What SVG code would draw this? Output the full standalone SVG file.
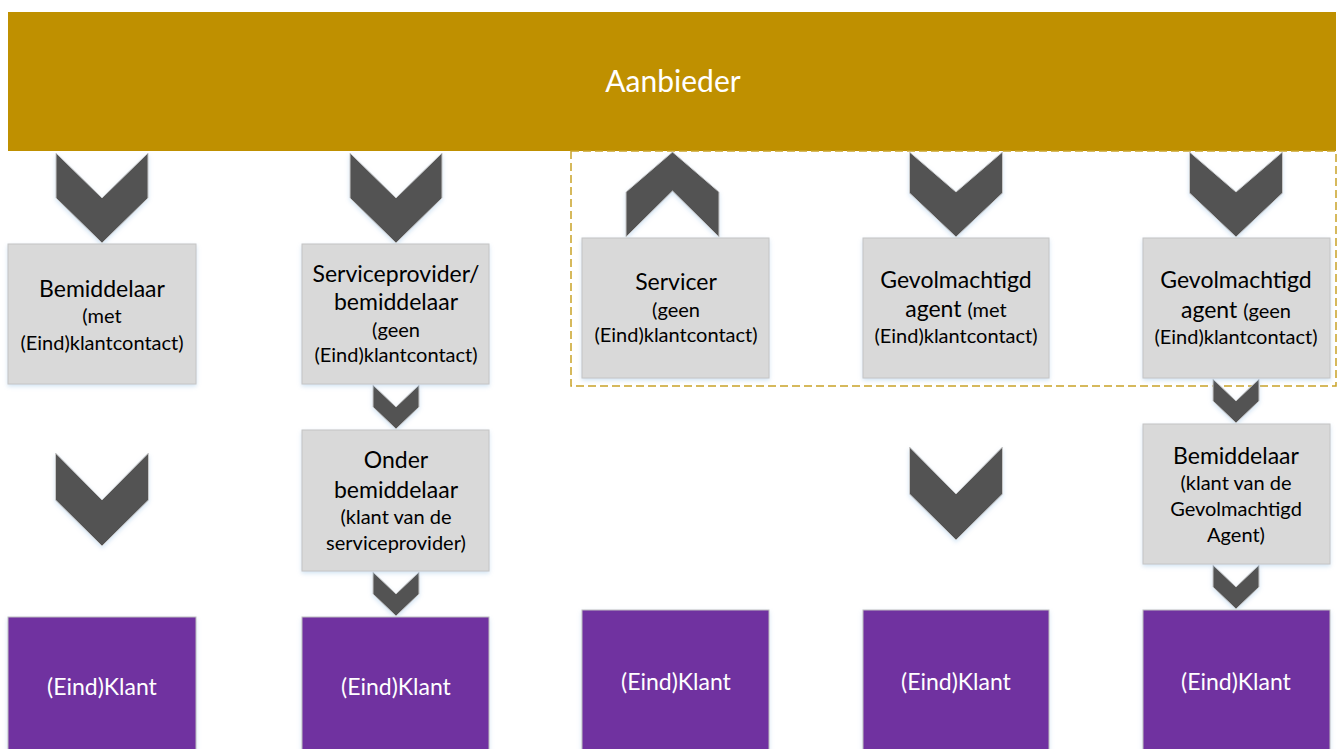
<svg xmlns="http://www.w3.org/2000/svg" width="1341" height="749" viewBox="0 0 1341 749">
<style>
  .bar { fill: #BF9000; }
  .box { fill: #D9D9D9; stroke: #C4C4C4; stroke-width: 1; filter: url(#glow); }
  .end { fill: #7030A0; stroke: #BFBFBF; stroke-width: 1; filter: url(#glow); }
  .chev { fill: #525252; stroke: #C8C8C8; stroke-width: 1; filter: url(#glow); }
  .dash { fill: none; stroke: #C9A227; stroke-width: 1.5; stroke-dasharray: 8 4; }
  text { font-family: Lato, "Liberation Sans", sans-serif; text-anchor: middle; }
  .big { font-size: 23px; fill: #000; }
  .small { font-size: 20px; fill: #000; }
  .white { font-size: 23px; fill: #FFFFFF; }
  .title { font-size: 30px; fill: #FFFFFF; }
</style>
<defs>
  <filter id="glow" x="-20%" y="-20%" width="140%" height="140%">
    <feDropShadow dx="0" dy="2" stdDeviation="2" flood-color="#9DC3E6" flood-opacity="0.45"/>
  </filter>
  <path id="chevL" d="M -46,0 L 0,45 L 46,0 L 46,45 L 0,90 L -46,45 Z"/>
  <path id="chevM" d="M -46.5,0 L 0,40 L 46.5,0 L 46.5,41 L 0,85 L -46.5,41 Z"/>
  <path id="chevU" d="M -46.5,40 L 0,0 L 46.5,40 L 46.5,85 L 0,39 L -46.5,85 Z"/>
  <path id="chevB" d="M -46.5,0 L 0,47 L 46.5,0 L 46.5,47 L 0,93 L -46.5,47 Z"/>
  <path id="chevS" d="M -23,0 L 0,22 L 23,0 L 23,22 L 0,44 L -23,22 Z"/>
</defs>
<rect width="1341" height="749" fill="#FFFFFF"/>

<g id="aanbieder">
  <rect class="bar" x="8" y="12" width="1328" height="139"/>
  <text class="title" x="673" y="92">Aanbieder</text>
</g>

<rect id="groep" class="dash" x="571" y="151" width="765" height="235"/>

<g id="connectors">
  <use href="#chevL" class="chev" x="102" y="153"/>
  <use href="#chevL" class="chev" x="396" y="153"/>
  <use href="#chevU" class="chev" x="672.5" y="152"/>
  <use href="#chevM" class="chev" x="956" y="152"/>
  <use href="#chevM" class="chev" x="1236" y="152"/>
  <use href="#chevB" class="chev" x="102" y="453"/>
  <use href="#chevB" class="chev" x="956" y="447"/>
  <use href="#chevS" class="chev" x="396" y="385"/>
  <use href="#chevS" class="chev" x="396" y="572"/>
  <use href="#chevS" class="chev" x="1236" y="379"/>
  <use href="#chevS" class="chev" x="1236" y="565"/>
</g>

<g id="bemiddelaar1">
  <rect class="box" x="8" y="244" width="188" height="140"/>
  <text class="big" x="102" y="297">Bemiddelaar</text>
  <text class="small" x="102" y="323">(met</text>
  <text class="small" x="102" y="350">(Eind)klantcontact)</text>
</g>

<g id="serviceprovider">
  <rect class="box" x="302" y="244" width="187" height="140"/>
  <text class="big" x="396" y="282">Serviceprovider/</text>
  <text class="big" x="396" y="310">bemiddelaar</text>
  <text class="small" x="396" y="337">(geen</text>
  <text class="small" x="396" y="362">(Eind)klantcontact)</text>
</g>

<g id="servicer">
  <rect class="box" x="582" y="238" width="187" height="140"/>
  <text class="big" x="676" y="290">Servicer</text>
  <text class="small" x="676" y="317">(geen</text>
  <text class="small" x="676" y="342">(Eind)klantcontact)</text>
</g>

<g id="agent-met">
  <rect class="box" x="863" y="238" width="186" height="140"/>
  <text class="big" x="956" y="288">Gevolmachtigd</text>
  <text x="956" y="317"><tspan class="big">agent </tspan><tspan class="small">(met</tspan></text>
  <text class="small" x="956" y="343">(Eind)klantcontact)</text>
</g>

<g id="agent-geen">
  <rect class="box" x="1143" y="238" width="187" height="140"/>
  <text class="big" x="1236" y="288">Gevolmachtigd</text>
  <text x="1236" y="318"><tspan class="big">agent </tspan><tspan class="small">(geen</tspan></text>
  <text class="small" x="1236" y="344">(Eind)klantcontact)</text>
</g>

<g id="onderbemiddelaar">
  <rect class="box" x="302" y="430" width="187" height="141"/>
  <text class="big" x="396" y="468">Onder</text>
  <text class="big" x="396" y="498">bemiddelaar</text>
  <text class="small" x="396" y="524">(klant van de</text>
  <text class="small" x="396" y="550">serviceprovider)</text>
</g>

<g id="bemiddelaar2">
  <rect class="box" x="1143" y="424" width="187" height="140"/>
  <text class="big" x="1236" y="464">Bemiddelaar</text>
  <text class="small" x="1236" y="490">(klant van de</text>
  <text class="small" x="1236" y="516">Gevolmachtigd</text>
  <text class="small" x="1236" y="542">Agent)</text>
</g>

<g id="klant1">
  <rect class="end" x="8" y="617" width="188" height="145"/>
  <text class="white" x="102" y="695">(Eind)Klant</text>
</g>
<g id="klant2">
  <rect class="end" x="302" y="617" width="187" height="145"/>
  <text class="white" x="396" y="695">(Eind)Klant</text>
</g>
<g id="klant3">
  <rect class="end" x="582" y="610" width="187" height="152"/>
  <text class="white" x="676" y="690">(Eind)Klant</text>
</g>
<g id="klant4">
  <rect class="end" x="863" y="610" width="186" height="152"/>
  <text class="white" x="956" y="690">(Eind)Klant</text>
</g>
<g id="klant5">
  <rect class="end" x="1143" y="610" width="187" height="152"/>
  <text class="white" x="1236" y="690">(Eind)Klant</text>
</g>
</svg>
